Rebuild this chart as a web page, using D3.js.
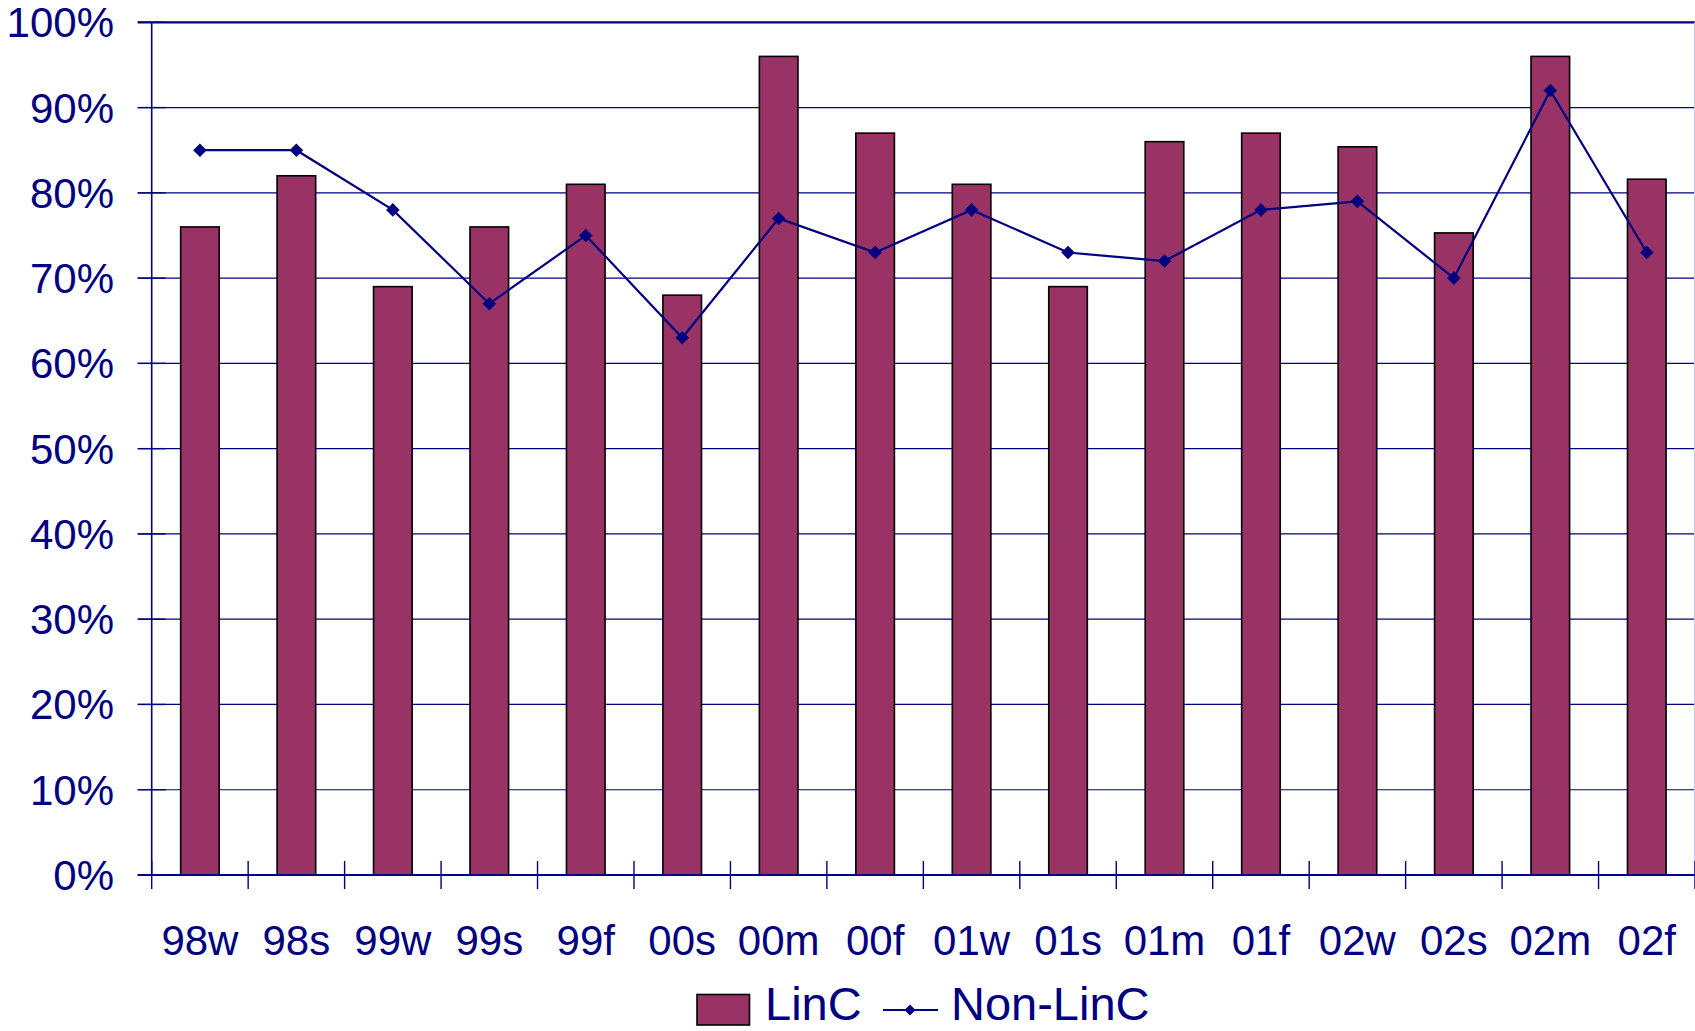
<!DOCTYPE html>
<html>
<head>
<meta charset="utf-8">
<script src="https://cdn.jsdelivr.net/npm/d3@7/dist/d3.min.js"></script>
<style>
  html, body { margin: 0; padding: 0; background: #ffffff; }
  svg { display: block; }
  text { font-family: "Liberation Sans", Arial, sans-serif; fill: #000080; }
</style>
</head>
<body>
<svg id="chart" width="1695" height="1031"></svg>
<script>
// Term codes along the x axis
const categories = ["98w","98s","99w","99s","99f","00s","00m","00f","01w","01s","01m","01f","02w","02s","02m","02f"];
// Share of students per term, as fractions
const lincValues    = [0.76,0.82,0.69,0.76,0.81,0.68,0.96,0.87,0.81,0.69,0.86,0.87,0.854,0.753,0.96,0.816];
const nonLincValues = [0.85,0.85,0.78,0.67,0.75,0.63,0.77,0.73,0.78,0.73,0.72,0.78,0.79,0.70,0.92,0.73];
const yTicks = [0,0.1,0.2,0.3,0.4,0.5,0.6,0.7,0.8,0.9,1.0];
const seriesNames = ["LinC","Non-LinC"];

(function draw() {
  const NAVY = "#000080";
  const PLUM = "#993366";

  const svg = d3.select("#chart");
  const plotLeft = 151.7, plotRight = 1695, plotTop = 22.3, plotBottom = 875;

  const x = d3.scaleBand().domain(categories).range([plotLeft, plotRight])
    .paddingInner(0.6).paddingOuter(0.3);
  const step = x.step();
  const cx = c => x(c) + x.bandwidth() / 2;
  const y = d3.scaleLinear().domain([0, 1]).range([plotBottom, plotTop]);
  const fmt = d3.format(".0%");

  // Horizontal gridlines, extending left past the axis as tick marks
  svg.append("g").selectAll("line").data(yTicks).join("line")
    .attr("x1", plotLeft - 14).attr("x2", plotRight)
    .attr("y1", d => y(d)).attr("y2", d => y(d))
    .attr("stroke", NAVY)
    .attr("stroke-width", d => d === 1 ? 2.2 : 1.2);

  // Y tick marks crossing the axis
  svg.append("g").selectAll("line").data(yTicks).join("line")
    .attr("x1", plotLeft - 14).attr("x2", plotLeft + 14)
    .attr("y1", d => y(d)).attr("y2", d => y(d))
    .attr("stroke", NAVY).attr("stroke-width", 1.4);

  // Faint right-hand edge of the plot area
  svg.append("line")
    .attr("x1", plotRight - 0.5).attr("x2", plotRight - 0.5)
    .attr("y1", plotTop).attr("y2", plotBottom)
    .attr("stroke", "#c8c8e8").attr("stroke-width", 1);

  // Y labels
  svg.append("g").selectAll("text").data(yTicks).join("text")
    .attr("x", 114).attr("y", d => y(d) + 15)
    .attr("text-anchor", "end")
    .style("font-size", "42px")
    .text(d => fmt(d));

  // LinC bars
  svg.append("g").selectAll("rect").data(categories).join("rect")
    .attr("x", d => x(d))
    .attr("y", (d, i) => y(lincValues[i]))
    .attr("width", x.bandwidth())
    .attr("height", (d, i) => y(0) - y(lincValues[i]))
    .attr("fill", PLUM)
    .attr("stroke", "#000000").attr("stroke-width", 1.6);

  // Axis lines
  svg.append("line")
    .attr("x1", plotLeft).attr("x2", plotLeft).attr("y1", plotTop).attr("y2", plotBottom)
    .attr("stroke", NAVY).attr("stroke-width", 1.6);
  svg.append("line")
    .attr("x1", plotLeft - 14).attr("x2", plotRight).attr("y1", plotBottom).attr("y2", plotBottom)
    .attr("stroke", NAVY).attr("stroke-width", 2);

  // X tick marks at category boundaries
  const boundaries = d3.range(categories.length + 1).map(i => plotLeft + i * step);
  svg.append("g").selectAll("line").data(boundaries).join("line")
    .attr("x1", d => d).attr("x2", d => d)
    .attr("y1", plotBottom - 14).attr("y2", plotBottom + 14)
    .attr("stroke", NAVY).attr("stroke-width", 1.4);

  // X labels
  svg.append("g").selectAll("text").data(categories).join("text")
    .attr("x", d => cx(d))
    .attr("y", 955)
    .attr("text-anchor", "middle")
    .style("font-size", "42px")
    .text(d => d);

  // Non-LinC line with diamond markers
  const line = d3.line()
    .x((d, i) => cx(categories[i]))
    .y(d => y(d));
  svg.append("path").datum(nonLincValues)
    .attr("d", line)
    .attr("fill", "none").attr("stroke", NAVY).attr("stroke-width", 2.2);

  const diamond = d3.symbol().type(d3.symbolSquare).size(92);
  svg.append("g").selectAll("path").data(nonLincValues).join("path")
    .attr("d", diamond())
    .attr("transform", (d, i) => `translate(${cx(categories[i])},${y(d)}) rotate(45)`)
    .attr("fill", NAVY);

  // Legend
  const legend = svg.append("g");
  legend.append("rect")
    .attr("x", 697).attr("y", 994.5).attr("width", 52.5).attr("height", 30.5)
    .attr("fill", PLUM).attr("stroke", "#000000").attr("stroke-width", 1.6);
  legend.append("text")
    .attr("x", 765).attr("y", 1020)
    .style("font-size", "47px")
    .text(seriesNames[0]);
  legend.append("line")
    .attr("x1", 883).attr("x2", 938).attr("y1", 1010).attr("y2", 1010)
    .attr("stroke", NAVY).attr("stroke-width", 2);
  legend.append("path")
    .attr("d", d3.symbol().type(d3.symbolSquare).size(60)())
    .attr("transform", "translate(910,1010) rotate(45)")
    .attr("fill", NAVY);
  legend.append("text")
    .attr("x", 951).attr("y", 1020)
    .style("font-size", "47px")
    .text(seriesNames[1]);
})();
</script>
</body>
</html>
